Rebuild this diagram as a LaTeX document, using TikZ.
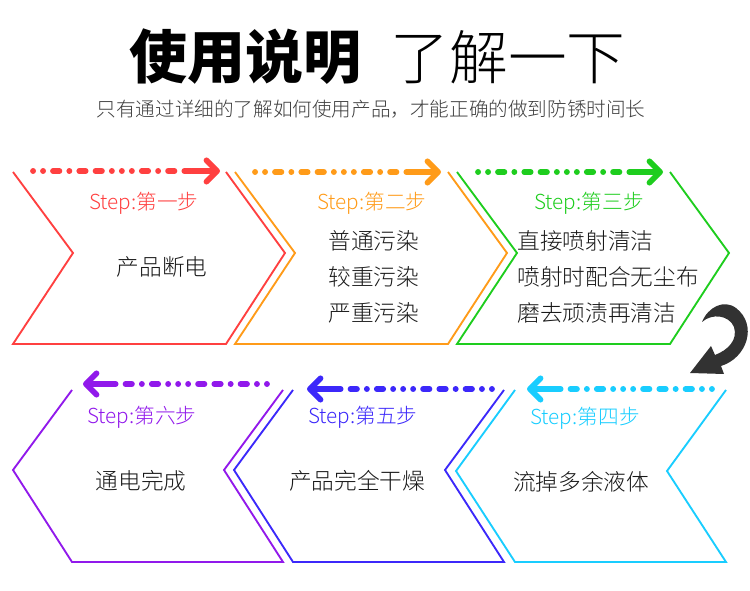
\documentclass[tikz,border=0pt]{standalone}
\usepackage{fontspec}
\setmainfont{Noto Sans CJK SC}
\IfFontExistsTF{Noto Sans CJK SC Light}
  {\newfontfamily\thincjk{Noto Sans CJK SC Light}}
  {\newfontfamily\thincjk{Noto Sans CJK SC}}
\IfFontExistsTF{Noto Sans CJK SC Black}
  {\newfontfamily\heavycjk{Noto Sans CJK SC Black}}
  {\newfontfamily\heavycjk{Noto Sans CJK SC}[FakeBold=2]}
\usetikzlibrary{arrows.meta,calc}

\definecolor{stepred}{RGB}{255,64,64}
\definecolor{steporange}{RGB}{255,155,25}
\definecolor{stepgreen}{RGB}{30,205,30}
\definecolor{stepcyan}{RGB}{25,205,255}
\definecolor{stepblue}{RGB}{60,40,250}
\definecolor{steppurple}{RGB}{145,25,235}
\definecolor{subgray}{RGB}{60,60,60}
\definecolor{bodygray}{RGB}{25,25,25}
\definecolor{turngray}{RGB}{50,50,50}

\tikzset{every picture/.style={line width=0.75pt}}
\tikzset{
  chevron/.style={line width=1.4pt},
  dotline/.style={line width=4.3pt, line cap=round, dash pattern=on 0.1pt off 7.4pt on 0.1pt off 7.4pt on 4.8pt off 7.4pt on 0.1pt off 7.4pt on 4.8pt off 7.4pt on 4.8pt off 7.4pt on 0.1pt off 7.4pt},
  headline/.style={line width=4.3pt, line cap=round, -{Straight Barb[length=8pt,width=16pt,round]}},
  steplabel/.style={inner sep=0pt, font=\thincjk\fontsize{15.5}{18}\selectfont},
  stepbody/.style={inner sep=0pt, align=left, text=bodygray, font=\thincjk\fontsize{17}{27}\selectfont},
}

\begin{document}
\begin{tikzpicture}[x=0.75pt,y=0.75pt,yscale=-1,xscale=1]
\useasboundingbox (0,0) rectangle (750,591);

% Title
\node[inner sep=0pt, font=\heavycjk\fontsize{43.5}{50}\selectfont] (title) at (245,57) {使用说明};
\node[inner sep=0pt, font=\thincjk\fontsize{44}{50}\selectfont] (titleb) at (508,57) {了解一下};
\node[inner sep=0pt, text=subgray, font=\thincjk\fontsize{14.7}{17}\selectfont] (subtitle) at (371,109) {只有通过详细的了解如何使用产品，才能正确的做到防锈时间长};

%Shapes [top row]
\draw[chevron, stepred] (13,172) -- (73,253) -- (13,344) -- (226,344) -- (285,253) -- (226,172);
\draw[chevron, steporange] (235,172) -- (295,253) -- (235,344) -- (448,344) -- (507,253) -- (448,172);
\draw[chevron, stepgreen] (457,172) -- (517,253) -- (457,344) -- (670,344) -- (729,253) -- (670,172);
%Shapes [bottom row]
\draw[chevron, steppurple] (72,390) -- (13,470) -- (72,562) -- (283,562) -- (224,470) -- (283,390);
\draw[chevron, stepblue] (293,390) -- (234,470) -- (293,562) -- (504,562) -- (445,470) -- (504,390);
\draw[chevron, stepcyan] (515,390) -- (456,471) -- (515,562) -- (726,562) -- (667,471) -- (726,390);

% Arrow ends
\coordinate (a1s) at (33,171);  \coordinate (a1e) at (220,171);
\coordinate (a2s) at (255,172); \coordinate (a2e) at (441,172);
\coordinate (a3s) at (478,172); \coordinate (a3e) at (663,172);
\coordinate (a4s) at (712,389); \coordinate (a4e) at (527,389);
\coordinate (a5s) at (492,389); \coordinate (a5e) at (307,389);
\coordinate (a6s) at (267,384); \coordinate (a6e) at (83,384);

%Dotted arrows
\draw[dotline, stepred] (a1s) -- ($(a1e)+(-26,0)$);
\draw[headline, stepred] ($(a1e)+(-28,0)$) -- (a1e);
\draw[dotline, steporange] (a2s) -- ($(a2e)+(-26,0)$);
\draw[headline, steporange] ($(a2e)+(-28,0)$) -- (a2e);
\draw[dotline, stepgreen] (a3s) -- ($(a3e)+(-26,0)$);
\draw[headline, stepgreen] ($(a3e)+(-28,0)$) -- (a3e);
\draw[dotline, stepcyan] (a4s) -- ($(a4e)+(26,0)$);
\draw[headline, stepcyan] ($(a4e)+(28,0)$) -- (a4e);
\draw[dotline, stepblue] (a5s) -- ($(a5e)+(26,0)$);
\draw[headline, stepblue] ($(a5e)+(28,0)$) -- (a5e);
\draw[dotline, steppurple] (a6s) -- ($(a6e)+(26,0)$);
\draw[headline, steppurple] ($(a6e)+(28,0)$) -- (a6e);

%Turn arrow
\fill[turngray] (721,366) .. controls (747,358) and (758,325) .. (736,308) .. controls (724,299) and (708,307) .. (702,322) .. controls (712,313) and (729,315) .. (734,327) .. controls (738,340) and (728,350) .. (715,355) -- (711,346) -- (690,373) -- (724,374) -- cycle;

% Text Node
\node[steplabel, text=stepred] (lab1) at (144,203) {Step:第一步};
\node[steplabel, text=steporange] (lab2) at (372,203) {Step:第二步};
\node[steplabel, text=stepgreen] (lab3) at (589,203) {Step:第三步};
\node[steplabel, text=stepcyan] (lab4) at (585,418) {Step:第四步};
\node[steplabel, text=stepblue] (lab5) at (363,417) {Step:第五步};
\node[steplabel, text=steppurple] (lab6) at (142,417) {Step:第六步};
% Text Node
\node[stepbody] (body1) at (162,267) {产品断电};
\node[stepbody, anchor=west] (body2) at (328,277) {普通污染\\较重污染\\严重污染};
\node[stepbody, anchor=west] (body3) at (517,277) {直接喷射清洁\\喷射时配合无尘布\\磨去顽渍再清洁};
\node[stepbody] (body4) at (581,482) {流掉多余液体};
\node[stepbody] (body5) at (357,481) {产品完全干燥};
\node[stepbody] (body6) at (141,481) {通电完成};

\end{tikzpicture}
\end{document}
